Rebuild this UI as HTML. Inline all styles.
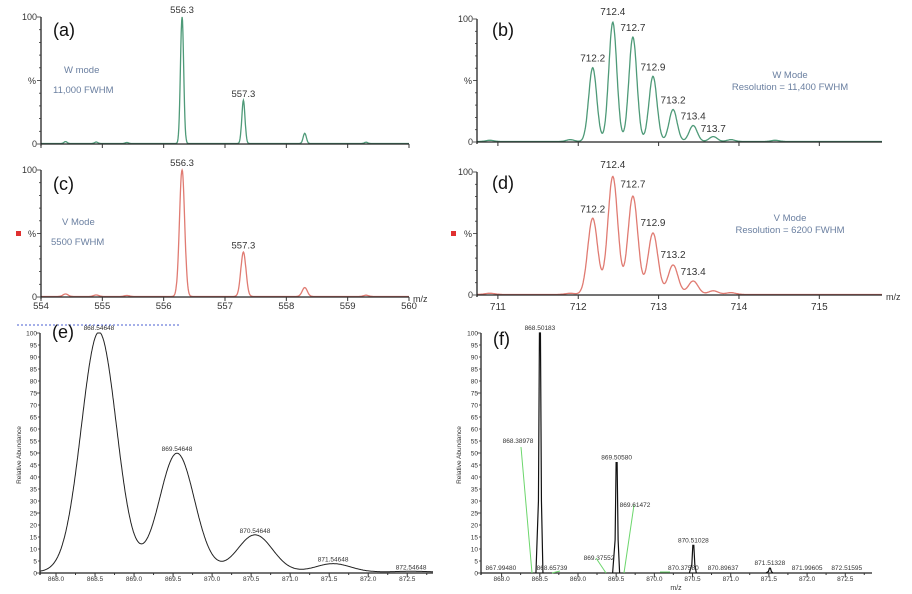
<!DOCTYPE html>
<html><head><meta charset="utf-8"><style>
html,body{margin:0;padding:0;background:#fff;}
svg{display:block;font-family:"Liberation Sans",sans-serif;}
</style></head><body>
<svg id="fig" width="912" height="594" viewBox="0 0 912 594">
<line x1="17" y1="325" x2="181" y2="325" stroke="#4a5fd0" stroke-width="1" stroke-dasharray="2,2"/>
<rect x="16" y="231" width="5" height="5" fill="#e03030"/>
<rect x="451" y="231" width="5" height="5" fill="#e03030"/>
</svg>
<script>
// ---- data ----
const aCenters=[554.4,554.9,555.4,556.3,557.3,558.3,559.3];
const aHeights=[1.5,1.2,0.8,100,34,8,1];
const cCenters=[554.4,554.9,555.4,556.3,557.3,558.3,559.3];
const cHeights=[2,1.2,0.8,100,35,7,1];
const bCenters=[710.9,711.9,712.18,712.43,712.68,712.93,713.18,713.43,713.68,713.9,714.45];
const bHeights=[1,1.5,60,97,85,53,26,13,4,1.5,1];
const dCenters=[710.9,711.9,712.18,712.43,712.68,712.93,713.18,713.43,713.68,713.9];
const dHeights=[1,1,62,96,80,50,24,11,3,1.5];
const eCenters=[868.55,869.55,870.55,871.55,872.55];
const eHeights=[100,49.5,15.5,3.5,0.3];
const fCenters=[868.50183,869.5058,870.51028,871.51328];
const fHeights=[100,46,11.5,2];
const aLabels=["556.3","557.3"], aLabelX=[556.3,557.3], aLabelY=[100,34];
const bLabels=["712.2","712.4","712.7","712.9","713.2","713.4","713.7"];
const bLabelX=[712.18,712.43,712.68,712.93,713.18,713.43,713.68];
const bLabelY=[62,100,87,55,28,15,5];
const dLabels=["712.2","712.4","712.7","712.9","713.2","713.4"];
const dLabelY=[64,100,84,53,27,13];
const cdTicks=[554,555,556,557,558,559,560];
const bdTicks=[711,712,713,714,715];
const efTicks=["868.0","868.5","869.0","869.5","870.0","870.5","871.0","871.5","872.0","872.5"];
const efYTicks=[0,5,10,15,20,25,30,35,40,45,50,55,60,65,70,75,80,85,90,95,100];
const eLabels=["868.54648","869.54648","870.54648","871.54648","872.54648"];
const fLabels=["868.50183","869.50580","870.51028","871.51328"];
const fMinor=["867.99480","868.65739","869.37552","870.37580","870.89637","871.99605","872.51595"];
const fMinorX=[867.99,868.66,869.38,870.38,870.9,872.0,872.52];

const svg=document.getElementById('fig');
const NS="http://www.w3.org/2000/svg";
function mk(tag,attrs,parent){const e=document.createElementNS(NS,tag);for(const k in attrs)e.setAttribute(k,attrs[k]);(parent||svg).appendChild(e);return e;}
function txt(x,y,s,size,fill,anchor,parent){const t=mk('text',{x:x,y:y,'font-size':size,fill:fill,'text-anchor':anchor||'middle'},parent);t.textContent=s;return t;}

function panel(name,x0,x1,y0,y100,dmin,dmax,centers,heights,sigma,color,sw){
  const g=mk('g',{});
  
  
  const sx=v=>x0+(v-dmin)/(dmax-dmin)*(x1-x0);
  const sy=v=>y0-(v/100)*(y0-y100);
  let pts=[];
  const N=900;
  for(let i=0;i<=N;i++){const m=dmin+(dmax-dmin)*i/N;let s=0.4;
    for(let k=0;k<centers.length;k++){const d=m-centers[k];s+=heights[k]*Math.exp(-d*d/(2*sigma*sigma));}
    pts.push(sx(m).toFixed(1)+','+sy(Math.min(s,100)).toFixed(1));}
  const p=mk('polyline',{points:pts.join(' '),fill:'none',stroke:color,'stroke-width':sw},g);
  
  
  return {g,sx,sy};
}
function axes(g,x0,x1,y0,y100,minor){
  mk('line',{x1:x0,y1:y100,x2:x0,y2:y0+2,stroke:'#222','stroke-width':1.3},g);
  mk('line',{x1:x0,y1:y0,x2:x1,y2:y0,stroke:'#222','stroke-width':1.3},g);
  for(let i=0;i<=minor;i++){const y=y0-(y0-y100)*i/minor;mk('line',{x1:x0-(i%5==0?4:2),y1:y,x2:x0,y2:y,stroke:'#333','stroke-width':0.8},g);}
}

// (a)
{const P=panel('panel-a',41,409,144,17,554,560,aCenters,aHeights,0.026,'#4e9a78',1.3);
 axes(P.g,41,409,144,17,10);
 txt(37,20,'100',9,'#333','end',P.g);txt(37,147,'0',9,'#333','end',P.g);txt(36,84,'%',9,'#333','end',P.g);
 cdTicks.forEach(t=>mk('line',{x1:P.sx(t),y1:144,x2:P.sx(t),y2:148,stroke:'#333'},P.g));
 aLabels.forEach((l,i)=>txt(P.sx(aLabelX[i]),P.sy(aLabelY[i])-4,l,9.5,'#333','middle',P.g));
 txt(64,73,'W mode',9.5,'#6a7fa0','start',P.g);txt(53,93,'11,000 FWHM',9.5,'#6a7fa0','start',P.g);
 txt(53,36,'(a)',18,'#111','start',P.g);}
// (c)
{const P=panel('panel-c',41,409,297,170,554,560,cCenters,cHeights,0.042,'#e07b72',1.3);
 axes(P.g,41,409,297,170,10);
 txt(37,173,'100',9,'#333','end',P.g);txt(37,300,'0',9,'#333','end',P.g);txt(36,237,'%',9,'#333','end',P.g);
 cdTicks.forEach(t=>{mk('line',{x1:P.sx(t),y1:297,x2:P.sx(t),y2:301,stroke:'#333'},P.g);txt(P.sx(t),309,String(t),9.5,'#333','middle',P.g);});
 aLabels.forEach((l,i)=>txt(P.sx(aLabelX[i]),P.sy(i?35:100)-4,l,9.5,'#333','middle',P.g));
 txt(413,302,'m/z',9,'#333','start',P.g);
 txt(62,225,'V Mode',9.5,'#6a7fa0','start',P.g);txt(51,245,'5500 FWHM',9.5,'#6a7fa0','start',P.g);
 txt(53,190,'(c)',18,'#111','start',P.g);}
// (b)
{const P=panel('panel-b',477,882,142,19,710.74,715.78,bCenters,bHeights,0.05,'#4e9a78',1.3);
 axes(P.g,477,882,142,19,10);
 txt(473,22,'100',9,'#333','end',P.g);txt(473,145,'0',9,'#333','end',P.g);txt(472,84,'%',9,'#333','end',P.g);
 bdTicks.forEach(t=>mk('line',{x1:P.sx(t),y1:142,x2:P.sx(t),y2:146,stroke:'#333'},P.g));
 bLabels.forEach((l,i)=>txt(P.sx(bLabelX[i]),P.sy(bLabelY[i])-4,l,10,'#333','middle',P.g));
 txt(790,78,'W Mode',9.5,'#6a7fa0','middle',P.g);txt(790,90,'Resolution = 11,400 FWHM',9.5,'#6a7fa0','middle',P.g);
 txt(492,36,'(b)',18,'#111','start',P.g);}
// (d)
{const P=panel('panel-d',477,882,295,172,710.74,715.78,dCenters,dHeights,0.062,'#e07b72',1.3);
 axes(P.g,477,882,295,172,10);
 txt(473,175,'100',9,'#333','end',P.g);txt(473,298,'0',9,'#333','end',P.g);txt(472,237,'%',9,'#333','end',P.g);
 bdTicks.forEach(t=>{mk('line',{x1:P.sx(t),y1:295,x2:P.sx(t),y2:299,stroke:'#333'},P.g);txt(P.sx(t),310,String(t),10,'#333','middle',P.g);});
 dLabels.forEach((l,i)=>txt(P.sx(bLabelX[i]),P.sy(dLabelY[i])-4,l,10,'#333','middle',P.g));
 txt(886,300,'m/z',9,'#333','start',P.g);
 txt(790,221,'V Mode',9.5,'#6a7fa0','middle',P.g);txt(790,233,'Resolution = 6200 FWHM',9.5,'#6a7fa0','middle',P.g);
 txt(492,189,'(d)',18,'#111','start',P.g);}
// (e)
{const P=panel('panel-e',40,433,573,333,867.795,872.83,eCenters,eHeights,0.225,'#222',1);
 axes(P.g,40,433,573,333,20);
 efYTicks.forEach(v=>txt(37,P.sy(v)+2.5,String(v),6.5,'#333','end',P.g));
 efTicks.forEach(t=>{const x=P.sx(+t);mk('line',{x1:x,y1:573,x2:x,y2:577,stroke:'#333'},P.g);mk('line',{x1:x+19.5,y1:573,x2:x+19.5,y2:575,stroke:'#333'},P.g);txt(x,581,t,6.5,'#333','middle',P.g);});
 eLabels.forEach((l,i)=>txt(P.sx(eCenters[i]),P.sy(Math.max(eHeights[i],0.3))-3,l,6.5,'#333','middle',P.g));
 const yl=txt(21,455,'Relative Abundance',6.5,'#333','middle',P.g);yl.setAttribute('transform','rotate(-90 21 455)');
 txt(52,338,'(e)',18,'#111','start',P.g);}
// (f)
{const g=mk('g',{});
 
 
 const x0=481,x1=872,y0=573,y100=333,dmin=867.73,dmax=872.85;
 const sx=v=>x0+(v-dmin)/(dmax-dmin)*(x1-x0), sy=v=>y0-(v/100)*(y0-y100);
 axes(g,x0,x1,y0,y100,20);
 efYTicks.forEach(v=>txt(478,sy(v)+2.5,String(v),6.5,'#333','end',g));
 efTicks.forEach(t=>{const x=sx(+t);mk('line',{x1:x,y1:573,x2:x,y2:577,stroke:'#333'},g);mk('line',{x1:x+19,y1:573,x2:x+19,y2:575,stroke:'#333'},g);txt(x,581,t,6.5,'#333','middle',g);});
 fCenters.forEach((c,i)=>{const x=sx(c);
  const pk=mk('path',{d:`M${x-4},${y0} L${x-1.5},${sy(fHeights[i]*0.3)} L${x-0.5},${sy(fHeights[i])} L${x+0.5},${sy(fHeights[i])} L${x+1.5},${sy(fHeights[i]*0.3)} L${x+3},${y0}`,fill:'none',stroke:'#111','stroke-width':1.2},g);
  
  
  txt(x,sy(fHeights[i])-3,fLabels[i],6.5,'#333','middle',g);});
 fMinor.forEach((l,i)=>txt(sx(fMinorX[i])+(i==2?-8:0),y0-(i==2?13:3),l,6.5,'#333','middle',g));
 const gl=[[521,447,532,573],[634,505,624,573],[596,558,606,573],[552,573,560,571],[660,572,670,572]];
 gl.forEach(a=>mk('line',{x1:a[0],y1:a[1],x2:a[2],y2:a[3],stroke:'#6cd66c','stroke-width':1},g));
 txt(518,443,'868.38978',6.5,'#333','middle',g);txt(635,507,'869.61472',6.5,'#333','middle',g);
 const yl=txt(461,455,'Relative Abundance',6.5,'#333','middle',g);yl.setAttribute('transform','rotate(-90 461 455)');
 txt(676,590,'m/z',7,'#333','middle',g);
 txt(493,345,'(f)',18,'#111','start',g);}
</script>
</body></html>
